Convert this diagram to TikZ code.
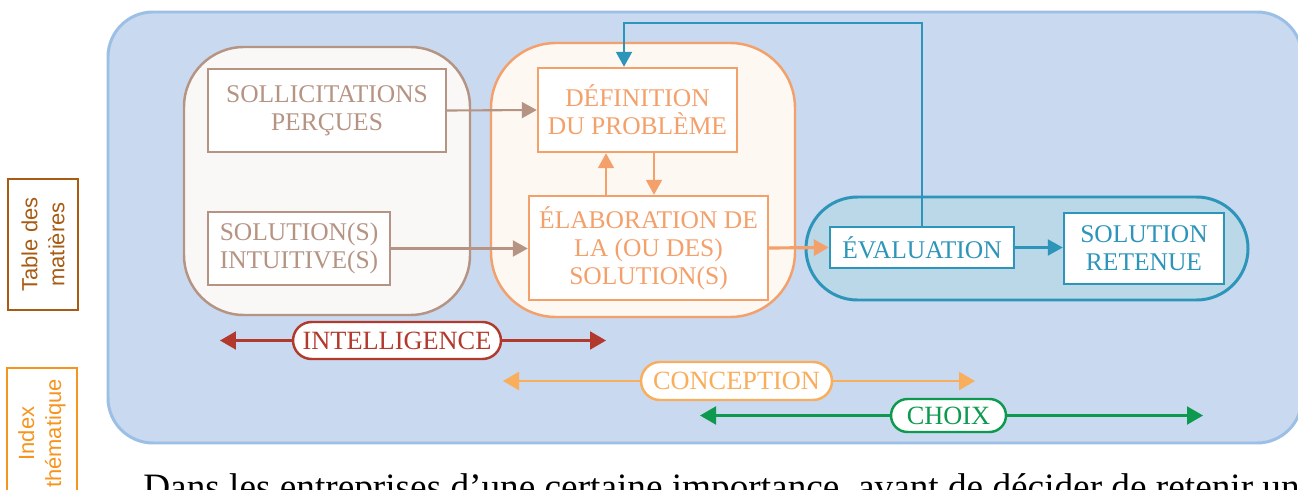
\documentclass[tikz,border=0pt]{standalone}
\usepackage{fontspec}
\setmainfont{Liberation Serif}
\setsansfont{Liberation Sans}
\usetikzlibrary{arrows.meta,shapes.misc}
\definecolor{bleufond}{HTML}{C8D9F0}
\definecolor{bleubord}{HTML}{9BBFE5}
\definecolor{brun}{HTML}{B59484}
\definecolor{brunfond}{HTML}{FAF8F6}
\definecolor{orangeconc}{HTML}{F4A06A}
\definecolor{orangefond}{HTML}{FEF8F3}
\definecolor{sarcelle}{HTML}{2E95BA}
\definecolor{sarcellefond}{HTML}{BAD8E7}
\definecolor{rouge}{HTML}{B23A2D}
\definecolor{orangeclair}{HTML}{F9AE5B}
\definecolor{vert}{HTML}{0D9A4F}
\definecolor{couleurtdm}{HTML}{A85B12}
\definecolor{couleuridx}{HTML}{F7941D}
\tikzset{
  boite/.style={draw=#1, text=#1, line width=1.4pt, fill=white, align=center, inner sep=0pt,
    font=\fontsize{14.5}{16}\selectfont},
  fleche/.style={draw=#1, line width=1.2pt, -{Triangle[length=3mm,width=3.2mm]}},
  pilule/.style={draw=#1, text=#1, rounded rectangle, line width=1.4pt, fill=white, inner sep=0pt,
    font=\fontsize{15}{16}\selectfont},
  bidir/.style={draw=#1, line width=1.2pt, -{Triangle[length=3.2mm,width=3.6mm]}},
  onglet/.style={draw=#1, text=#1, line width=1.4pt, rotate=90, align=center, inner sep=0pt,
    minimum width=26.2mm, minimum height=14mm, font=\sffamily\fontsize{12.5}{15.3}\selectfont},
}
\begin{document}
\begin{tikzpicture}[x=0.02cm,y=-0.02cm]
\useasboundingbox (0,0) rectangle (1298,490);
\draw[line width=1.7pt, draw=bleubord, fill=bleufond, rounded corners=9mm] (108,12) rectangle (1302,443);
\draw[line width=1.4pt, draw=brun, fill=brunfond, rounded corners=12mm] (184,47) rectangle (470,315);
\draw[line width=1.4pt, draw=orangeconc, fill=orangefond, rounded corners=13mm] (491,43) rectangle (795,317);
\draw[line width=1.7pt, draw=sarcelle, fill=sarcellefond, rounded corners=10.3mm] (806,197) rectangle (1248,300);

\path (327,110.5) node[boite=brun, minimum width=47.6mm, minimum height=16.6mm] (solli) {SOLLICITATIONS\\PERÇUES};
\path (299,248.5) node[boite=brun, minimum width=36.4mm, minimum height=14.6mm] (intu) {SOLUTION(S)\\INTUITIVE(S)};
\path (637.5,110) node[boite=orangeconc, minimum width=39.8mm, minimum height=16.8mm] (defi) {DÉFINITION\\DU PROBLÈME};
\path (648.5,248) node[boite=orangeconc, minimum width=47.8mm, minimum height=20.8mm] (elab) {ÉLABORATION DE\\LA (OU DES)\\SOLUTION(S)};
\path (922,247.5) node[boite=sarcelle, minimum width=36.8mm, minimum height=8.2mm] (eval) {ÉVALUATION};
\path (1144,248.5) node[boite=sarcelle, minimum width=32mm, minimum height=14.2mm] (reten) {SOLUTION\\RETENUE};

\draw[fleche=brun] (solli.east) -- (defi.west);
\draw[fleche=brun] (intu.east) -- (intu.east -| elab.west);
\draw[fleche=orangeconc] ([xshift=-8.5mm]elab.north) -- ([xshift=-8.5mm]elab.north |- defi.south);
\draw[fleche=orangeconc] ([xshift=3.3mm]defi.south) -- ([xshift=3.3mm]defi.south |- elab.north);
\draw[fleche=orangeconc, line width=1.8pt] (elab.east) -- (eval.west);
\draw[fleche=sarcelle] (eval.east) -- (eval.east -| reten.west);
\coordinate (retour) at (922,23);
\draw[fleche=sarcelle] (eval.north) -- (retour) -| ([xshift=-2.7mm]defi.north);

\path (397,340.5) node[pilule=rouge, minimum width=41.6mm, minimum height=7.4mm] (intel) {INTELLIGENCE};
\coordinate (intelG) at (220,340.5);
\coordinate (intelD) at (606,340.5);
\draw[bidir=rouge] (intel.west) -- (intelG);
\draw[bidir=rouge] (intel.east) -- (intelD);
\path (736.5,381) node[pilule=orangeclair, minimum width=38.2mm, minimum height=7.6mm] (conc) {CONCEPTION};
\coordinate (concG) at (503,381);
\coordinate (concD) at (975,381);
\draw[bidir=orangeclair] (conc.west) -- (concG);
\draw[bidir=orangeclair] (conc.east) -- (concD);
\path (948.5,415.5) node[pilule=vert, minimum width=23mm, minimum height=6.6mm] (choix) {CHOIX};
\coordinate (choixG) at (700,415.5);
\coordinate (choixD) at (1203,415.5);
\draw[bidir=vert] (choix.west) -- (choixG);
\draw[bidir=vert] (choix.east) -- (choixD);

\path (43,244.5) node[onglet=couleurtdm] (tabmat) {Table des\\matières};
\path (42,433.5) node[onglet=couleuridx] (index) {Index\\thématique};
\path (143,499) node[anchor=base west, inner sep=0pt, font=\fontsize{21.2}{22}\selectfont] (texte) {Dans les entreprises d’une certaine importance, avant de décider de retenir un};
\end{tikzpicture}
\end{document}
